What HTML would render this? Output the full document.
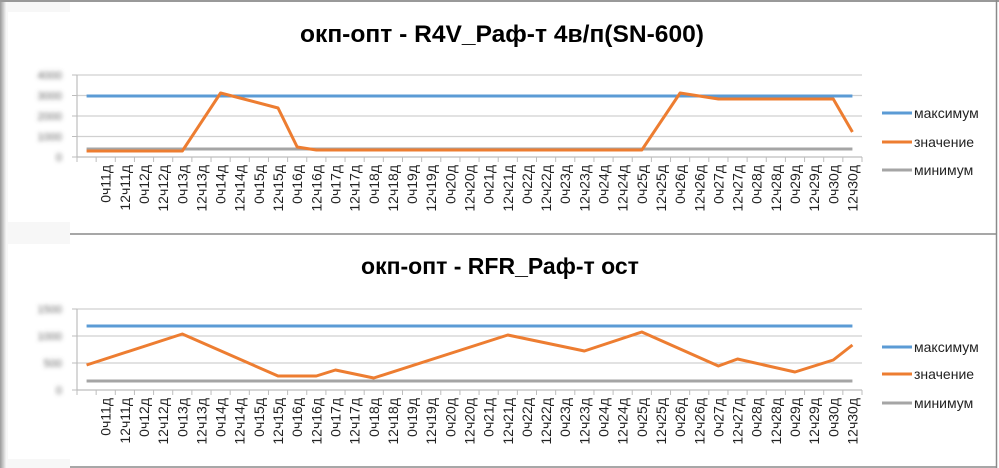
<!DOCTYPE html>
<html><head><meta charset="utf-8"><style>
html,body{margin:0;padding:0;background:#fff;}
svg{display:block;font-family:"Liberation Sans","DejaVu Sans",sans-serif;}
</style></head><body>
<svg id="s" width="999" height="468" viewBox="0 0 999 468" xmlns="http://www.w3.org/2000/svg">
<defs>
<filter id="bl" x="-50%" y="-50%" width="200%" height="200%"><feGaussianBlur stdDeviation="2.2"/></filter>
<linearGradient id="lg" x1="0" x2="1"><stop offset="0" stop-color="#9a9a9a"/><stop offset="1" stop-color="#f4f4f4"/></linearGradient>
</defs>
<rect x="0" y="0" width="999" height="468" fill="#fff"/>
<rect x="0" y="0" width="6" height="468" fill="url(#lg)"/>
<rect x="6" y="0" width="64" height="468" fill="#f7f7f7"/>
<rect x="8" y="12" width="62" height="210" fill="#fff"/>
<rect x="8" y="244" width="62" height="215" fill="#fff"/>
<line x1="0" y1="1" x2="999" y2="1" stroke="#999" stroke-width="2"/>
<line x1="70" y1="234" x2="996" y2="234" stroke="#8a8a8a" stroke-width="1.5"/>
<line x1="70" y1="467" x2="996" y2="467" stroke="#8a8a8a" stroke-width="1.5"/>
<line x1="996.5" y1="0" x2="996.5" y2="468" stroke="#8a8a8a" stroke-width="1.5"/>
<text x="502" y="42" text-anchor="middle" font-size="24" font-weight="bold" fill="#000" textLength="404" lengthAdjust="spacingAndGlyphs">окп-опт - R4V_Раф-т 4в/п(SN-600)</text>
<text x="500" y="274" text-anchor="middle" font-size="23" font-weight="bold" fill="#000">окп-опт - RFR_Раф-т ост</text>
<g id="g"></g>
</svg>
<script>
const g=document.getElementById('g');let h='';
const L=77,R=862,N=41,st=(R-L)/N;
const cx=i=>L+st*(i+0.5);
const labels=[];for(let d=11;d<=30;d++){labels.push('0ч'+d+'д');labels.push('12ч'+d+'д');}
function chart(grid,ylabs,ymax,ymin,pts,labTop,leg){
 const bot=grid[grid.length-1];
 grid.forEach((y,k)=>{h+=`<line x1="${L}" y1="${y}" x2="${R}" y2="${y}" stroke="${k==grid.length-1?'#bdbdbd':'#d0d0d0'}" stroke-width="1.2"/>`;
  h+=`<line x1="72" y1="${y}" x2="${L}" y2="${y}" stroke="#bdbdbd"/>`;
  h+=`<text x="62" y="${y+4}" text-anchor="end" font-size="11" fill="#666" filter="url(#bl)">${ylabs[k]}</text>`;});
 h+=`<line x1="${L}" y1="${grid[0]}" x2="${L}" y2="${bot}" stroke="#bdbdbd" stroke-width="1.2"/>`;
 for(let k=0;k<=N;k++){const x=L+st*k;h+=`<line x1="${x}" y1="${bot}" x2="${x}" y2="${bot+5}" stroke="#bdbdbd"/>`;}
 for(let i=1;i<N;i++){const x=cx(i)+5;h+=`<text transform="translate(${x},${labTop}) rotate(-90)" text-anchor="end" font-size="14" fill="#222">${labels[i-1]}</text>`;}
 h+=`<line x1="${cx(0)}" y1="${ymax}" x2="${cx(40)}" y2="${ymax}" stroke="#5b9bd5" stroke-width="3"/>`;
 h+=`<line x1="${cx(0)}" y1="${ymin}" x2="${cx(40)}" y2="${ymin}" stroke="#a5a5a5" stroke-width="3"/>`;
 h+=`<polyline fill="none" stroke="#ed7d31" stroke-width="3" stroke-linejoin="round" points="${pts.map(p=>cx(p[0])+','+p[1]).join(' ')}"/>`;
 const cols=['#5b9bd5','#ed7d31','#a5a5a5'],nm=['максимум','значение','минимум'];
 leg.forEach((y,k)=>{h+=`<line x1="882" y1="${y}" x2="912" y2="${y}" stroke="${cols[k]}" stroke-width="3"/><text x="914" y="${y+5}" font-size="14" fill="#222">${nm[k]}</text>`;});
}
chart([75,95.5,116,136.5,157],['4000','3000','2000','1000','0'],96,149,
 [[0,151],[5,151],[7,93],[10,108],[11,147],[12,150],[29,150],[31,93],[33,99],[39,99],[40,132]],165,[113,142,170]);
chart([309,336,363,390],['1500','1000','500','0'],326,381,
 [[0,365],[5,334],[10,376],[12,376],[13,370],[15,378],[22,335],[26,351],[29,332],[33,366],[34,359],[37,372],[39,360],[40,345]],398,[347,374,403]);
g.innerHTML=h;
</script>
</body></html>
